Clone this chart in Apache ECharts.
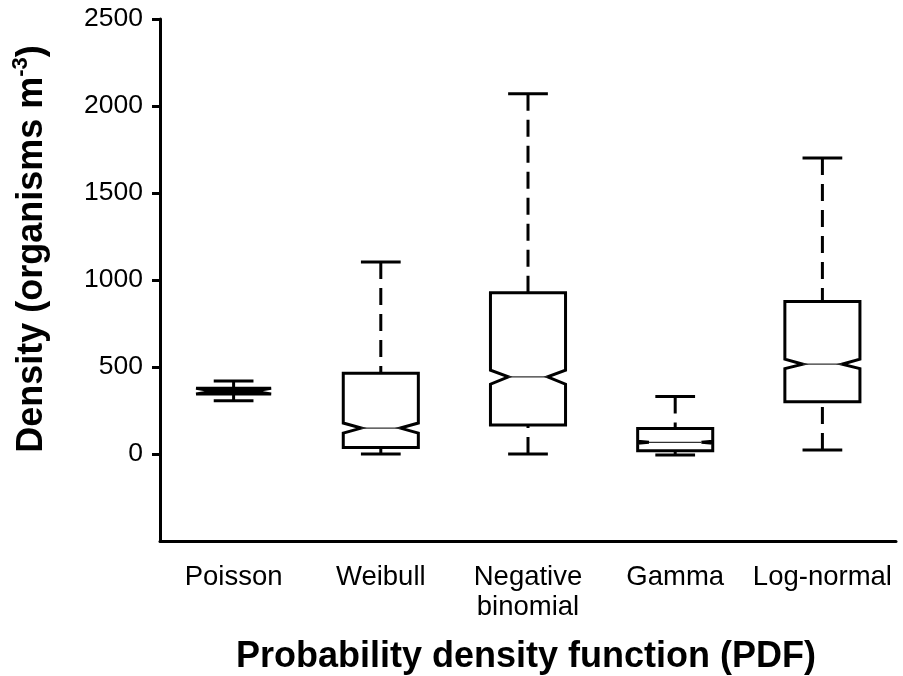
<!DOCTYPE html>
<html>
<head>
<meta charset="utf-8">
<script src="https://cdn.jsdelivr.net/npm/echarts@6/dist/echarts.min.js"></script>
<style>
  html, body { margin: 0; padding: 0; background: #fff; }
  #chart { width: 903px; height: 676px; }
</style>
</head>
<body>
<div id="chart"></div>
<script>
// ---- data ----
const categories = ['Poisson', 'Weibull', 'Negative\nbinomial', 'Gamma', 'Log-normal'];
const minVals    = [306,    0,    0,   -6,   23];
const q1Vals     = [345,   38,  166,   19,  300];
const notchLo    = [345,  120,  401,   62,  491];
const medians    = [361,  149,  443,   67,  516];
const notchHi    = [378,  178,  482,   73,  545];
const q3Vals     = [378,  464,  927,  147,  876];
const maxVals    = [420, 1103, 2070,  331, 1701];
const yTickValues = [0, 500, 1000, 1500, 2000, 2500];

const FONT = '"Liberation Sans", Arial, Helvetica, sans-serif';

const boxData = categories.map((c, i) => [i, minVals[i], q1Vals[i], notchLo[i], medians[i], notchHi[i], q3Vals[i], maxVals[i]]);

function renderBox(params, api) {
  const i = api.value(0);
  const band = api.size([1, 0])[0];
  const half = band * 0.255;
  const capHalf = band * 0.135;
  const pMin = api.coord([i, api.value(1)]);
  const pQ1 = api.coord([i, api.value(2)]);
  const pNl = api.coord([i, api.value(3)]);
  const pMed = api.coord([i, api.value(4)]);
  const pNh = api.coord([i, api.value(5)]);
  const pQ3 = api.coord([i, api.value(6)]);
  const pMax = api.coord([i, api.value(7)]);
  const cx = pMed[0];
  const L = cx - half, R = cx + half;
  const lw = 3;
  const boxH = pQ1[1] - pQ3[1];
  const thin = boxH < 10;            // a box too thin to show its inside reads as a solid bar
  const notchH = pNl[1] - pNh[1];
  const notchD = notchH < 4 ? half * 0.3 : half * 0.48;
  const whiskerStyle = { stroke: '#000', lineWidth: lw, lineDash: [17, 9], lineCap: 'butt' };
  const solid = { stroke: '#000', lineWidth: lw, lineCap: 'butt' };
  return {
    type: 'group',
    children: [
      { type: 'line', shape: { x1: cx, y1: pMax[1], x2: cx, y2: pQ3[1] }, style: whiskerStyle },
      { type: 'line', shape: { x1: cx, y1: pMin[1], x2: cx, y2: pQ1[1] }, style: whiskerStyle },
      { type: 'line', shape: { x1: cx - capHalf, y1: pMax[1], x2: cx + capHalf, y2: pMax[1] }, style: solid },
      { type: 'line', shape: { x1: cx - capHalf, y1: pMin[1], x2: cx + capHalf, y2: pMin[1] }, style: solid },
      {
        type: 'polygon',
        shape: {
          points: [
            [L, pQ3[1]], [L, pNh[1]], [L + notchD, pMed[1]], [L, pNl[1]], [L, pQ1[1]],
            [R, pQ1[1]], [R, pNl[1]], [R - notchD, pMed[1]], [R, pNh[1]], [R, pQ3[1]]
          ]
        },
        style: { fill: thin ? '#000' : '#fff', stroke: '#000', lineWidth: lw, lineJoin: 'miter' }
      },
      { type: 'line', shape: { x1: L + notchD, y1: pMed[1], x2: R - notchD, y2: pMed[1] },
        style: { stroke: thin ? '#000' : '#333', lineWidth: 1.2 } }
    ]
  };
}

const chart = echarts.init(document.getElementById('chart'), null, { renderer: 'canvas' });
chart.setOption({
  animation: false,
  backgroundColor: '#fff',
  grid: { left: 160, right: 7, top: 19, bottom: 135 },
  xAxis: {
    type: 'category',
    data: categories,
    boundaryGap: true,
    axisLine: { onZero: false, lineStyle: { color: '#000', width: 3 } },
    axisTick: { alignWithLabel: true, length: 8, lineStyle: { color: '#000', width: 3 } },
    axisLabel: { color: '#000', fontFamily: FONT, fontSize: 27.5, lineHeight: 30, margin: 21, interval: 0 },
    splitLine: { show: false }
  },
  yAxis: {
    type: 'value',
    min: -500,
    max: 2500,
    interval: 500,
    axisLine: { show: true, onZero: false, lineStyle: { color: '#000', width: 3 } },
    axisTick: { show: true, length: 8, lineStyle: { color: '#000', width: 3 }, customValues: yTickValues },
    axisLabel: { color: '#000', fontFamily: FONT, fontSize: 26.5, margin: 17, customValues: yTickValues,
                 formatter: v => String(v) },
    splitLine: { show: false }
  },
  graphic: [
    {
      type: 'text',
      x: 526, y: 657,
      style: {
        text: 'Probability density function (PDF)',
        fontFamily: FONT, fontSize: 36, fontWeight: 'bold', fill: '#000',
        align: 'center', verticalAlign: 'middle'
      }
    },
    {
      type: 'text',
      x: 30, y: 249,
      rotation: Math.PI / 2,
      style: {
        text: '{a|Density (organisms m}{s|-3}{a|)}',
        align: 'center', verticalAlign: 'middle',
        rich: {
          a: { fontFamily: FONT, fontSize: 36, fontWeight: 'bold', fill: '#000', lineHeight: 40, verticalAlign: 'bottom' },
          s: { fontFamily: FONT, fontSize: 22, fontWeight: 'bold', fill: '#000', lineHeight: 40, verticalAlign: 'top' }
        }
      }
    }
  ],
  series: [{
    type: 'custom',
    renderItem: renderBox,
    encode: { x: 0, y: [1, 2, 3, 4, 5, 6, 7] },
    data: boxData,
    z: 5
  }]
});
</script>
</body>
</html>
